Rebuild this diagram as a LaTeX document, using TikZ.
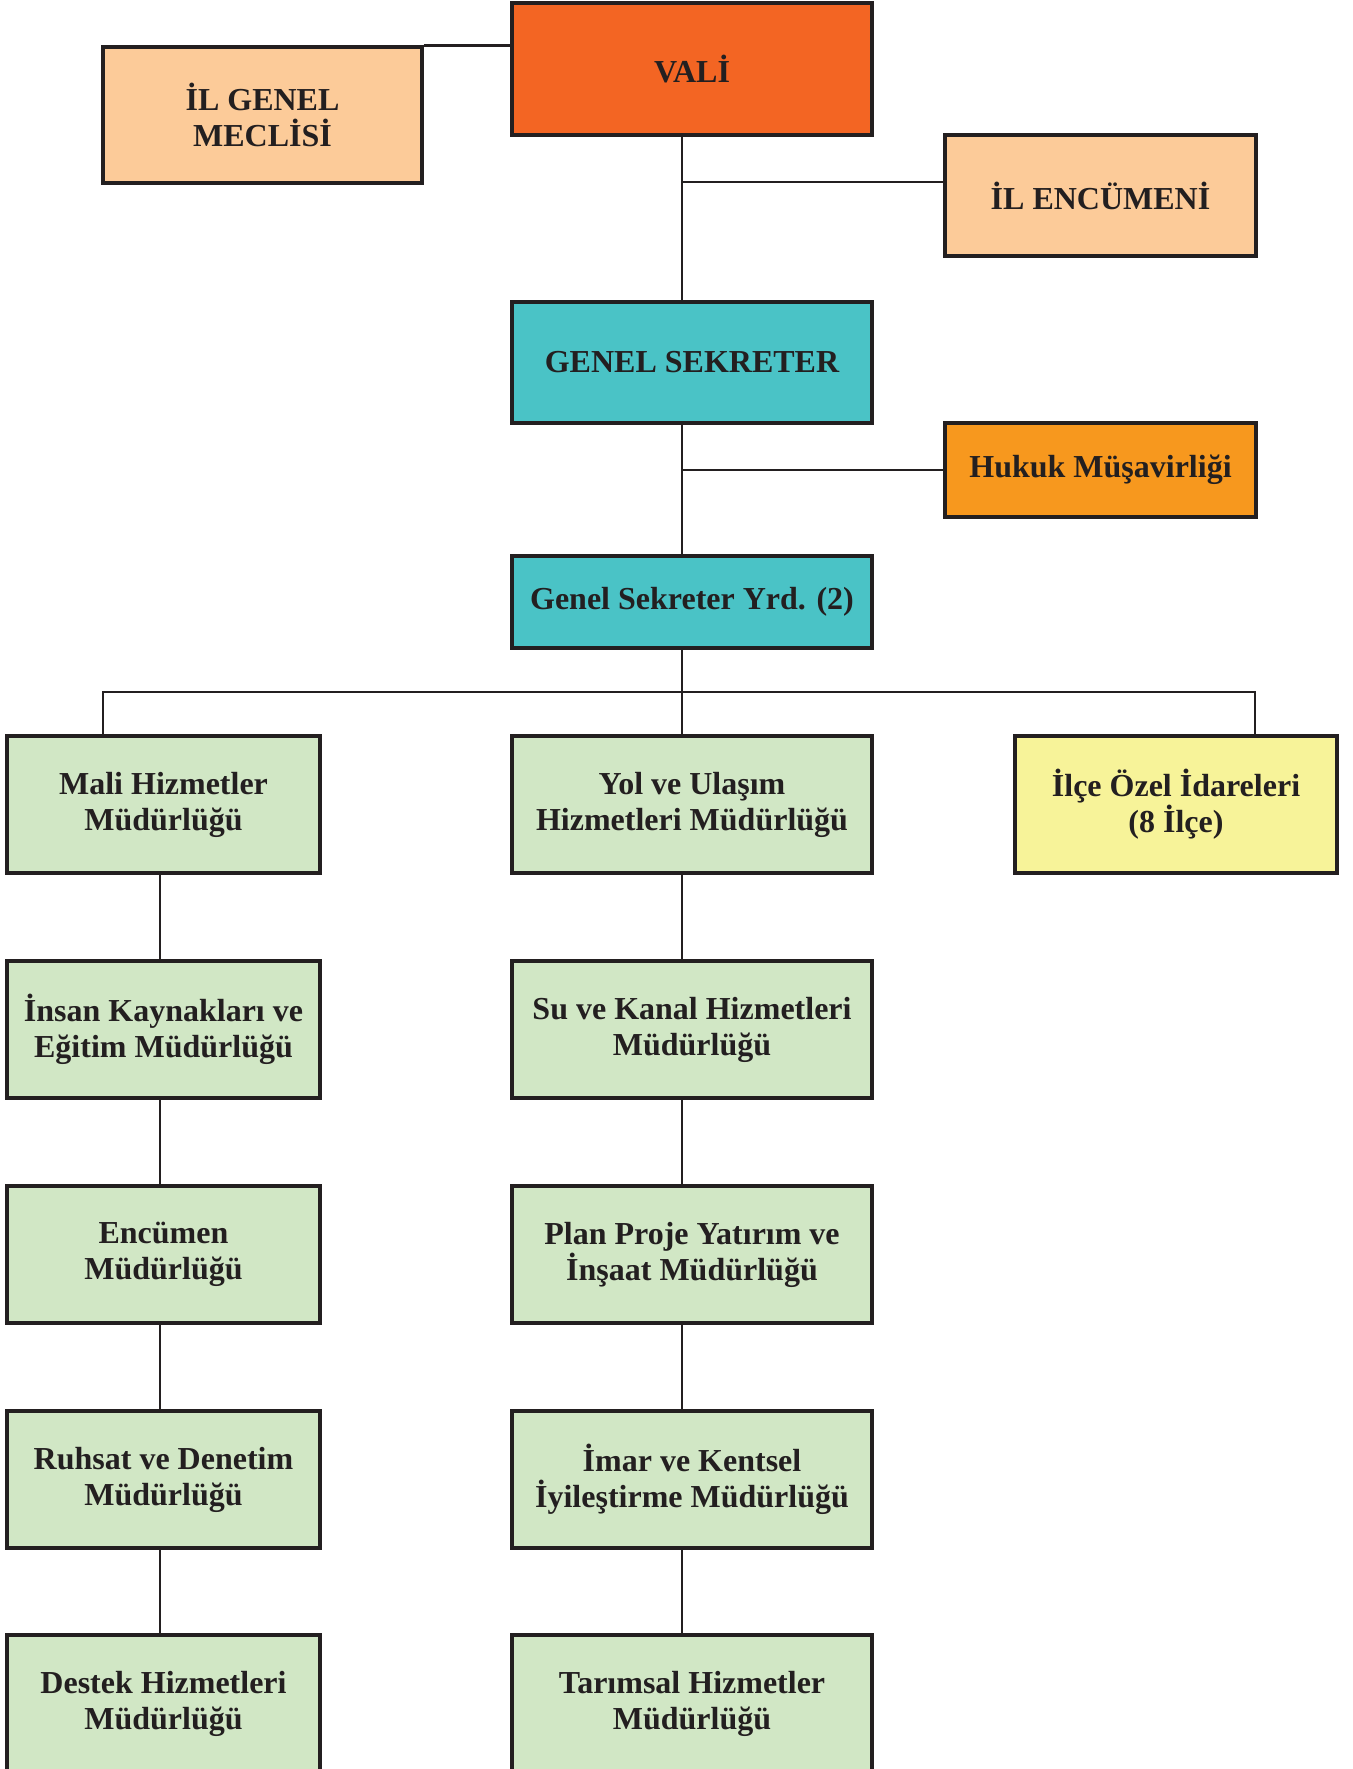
\documentclass[tikz,border=0pt]{standalone}
\usepackage{fontspec}
\setmainfont{Liberation Serif}
\definecolor{ink}{HTML}{231F20}
\definecolor{valic}{HTML}{F36523}
\definecolor{peach}{HTML}{FCCB99}
\definecolor{teal}{HTML}{4AC3C6}
\definecolor{hukukc}{HTML}{F7981E}
\definecolor{greenc}{HTML}{D1E7C5}
\definecolor{yellowc}{HTML}{F7F399}
\begin{document}
\begin{tikzpicture}[x=0.5pt,y=-0.5pt,
  box/.style={draw=ink, line width=1.7pt, rectangle, inner sep=0pt, align=center,
    font=\bfseries\fontsize{16}{18}\selectfont, text=ink},
  link/.style={draw=ink, line width=1.4pt}]
\useasboundingbox (0,0) rectangle (1353,1769);
% top
\node[box, fill=valic, minimum width=180pt, minimum height=66pt] (vali) at (692,69) {VALİ};
\node[box, fill=peach, minimum width=159.5pt, minimum height=68pt] (igm) at (262.5,115) {İL GENEL\\MECLİSİ};
\node[box, fill=peach, minimum width=155.5pt, minimum height=60.5pt] (enc) at (1100.5,195.5) {İL ENCÜMENİ};
\node[box, fill=teal, minimum width=180pt, minimum height=60.5pt] (gs) at (692,362.5) {GENEL SEKRETER};
\node[box, fill=hukukc, minimum width=155.5pt, minimum height=47pt] (huk) at (1100.5,470) {Hukuk Müşavirliği};
\node[box, fill=teal, minimum width=180pt, minimum height=46pt] (gsy) at (692,602) {Genel Sekreter Yrd. (2)};
% left column
\tikzset{lbox/.style={box, fill=greenc, minimum width=156.5pt, minimum height=68.5pt},
  cbox/.style={box, fill=greenc, minimum width=180pt, minimum height=68.5pt}}
\node[lbox] (mali) at (163.5,804.5) {Mali Hizmetler\\Müdürlüğü};
\node[lbox] (insan) at (163.5,1029.5) {İnsan Kaynakları ve\\Eğitim Müdürlüğü};
\node[lbox] (encm) at (163.5,1254.5) {Encümen\\Müdürlüğü};
\node[lbox] (ruhsat) at (163.5,1479.5) {Ruhsat ve Denetim\\Müdürlüğü};
\node[lbox] (destek) at (163.5,1703.5) {Destek Hizmetleri\\Müdürlüğü};
% center column
\node[cbox] (yol) at (692,804.5) {Yol ve Ulaşım\\Hizmetleri Müdürlüğü};
\node[cbox] (su) at (692,1029.5) {Su ve Kanal Hizmetleri\\Müdürlüğü};
\node[cbox] (plan) at (692,1254.5) {Plan Proje Yatırım ve\\İnşaat Müdürlüğü};
\node[cbox] (imar) at (692,1479.5) {İmar ve Kentsel\\İyileştirme Müdürlüğü};
\node[cbox] (tarim) at (692,1703.5) {Tarımsal Hizmetler\\Müdürlüğü};
% right
\node[box, fill=yellowc, minimum width=161pt, minimum height=68.5pt] (ilce) at (1176,804.5) {İlçe Özel İdareleri\\(8 İlçe)};
% coordinates
\coordinate (tr) at (682,182);
\coordinate (lc) at (160,0);
\coordinate (busL) at (103,692);
\coordinate (busR) at (1255,692);
% connectors
\draw[link] (igm.north east) -- (igm.north east -| vali.west);
\draw[link] (vali.south -| tr) -- (gs.north -| tr);
\draw[link] (tr) -- (tr -| enc.west);
\draw[link] (gs.south -| tr) -- (gsy.north -| tr);
\draw[link] (huk.west -| tr) -- (huk.west);
\draw[link] (gsy.south -| tr) -- (yol.north -| tr);
\draw[link] (mali.north -| busL) -- (busL) -- (busR) -- (ilce.north -| busR);
\draw[link] (mali.south -| lc) -- (insan.north -| lc);
\draw[link] (insan.south -| lc) -- (encm.north -| lc);
\draw[link] (encm.south -| lc) -- (ruhsat.north -| lc);
\draw[link] (ruhsat.south -| lc) -- (destek.north -| lc);
\draw[link] (yol.south -| tr) -- (su.north -| tr);
\draw[link] (su.south -| tr) -- (plan.north -| tr);
\draw[link] (plan.south -| tr) -- (imar.north -| tr);
\draw[link] (imar.south -| tr) -- (tarim.north -| tr);
\end{tikzpicture}
\end{document}
